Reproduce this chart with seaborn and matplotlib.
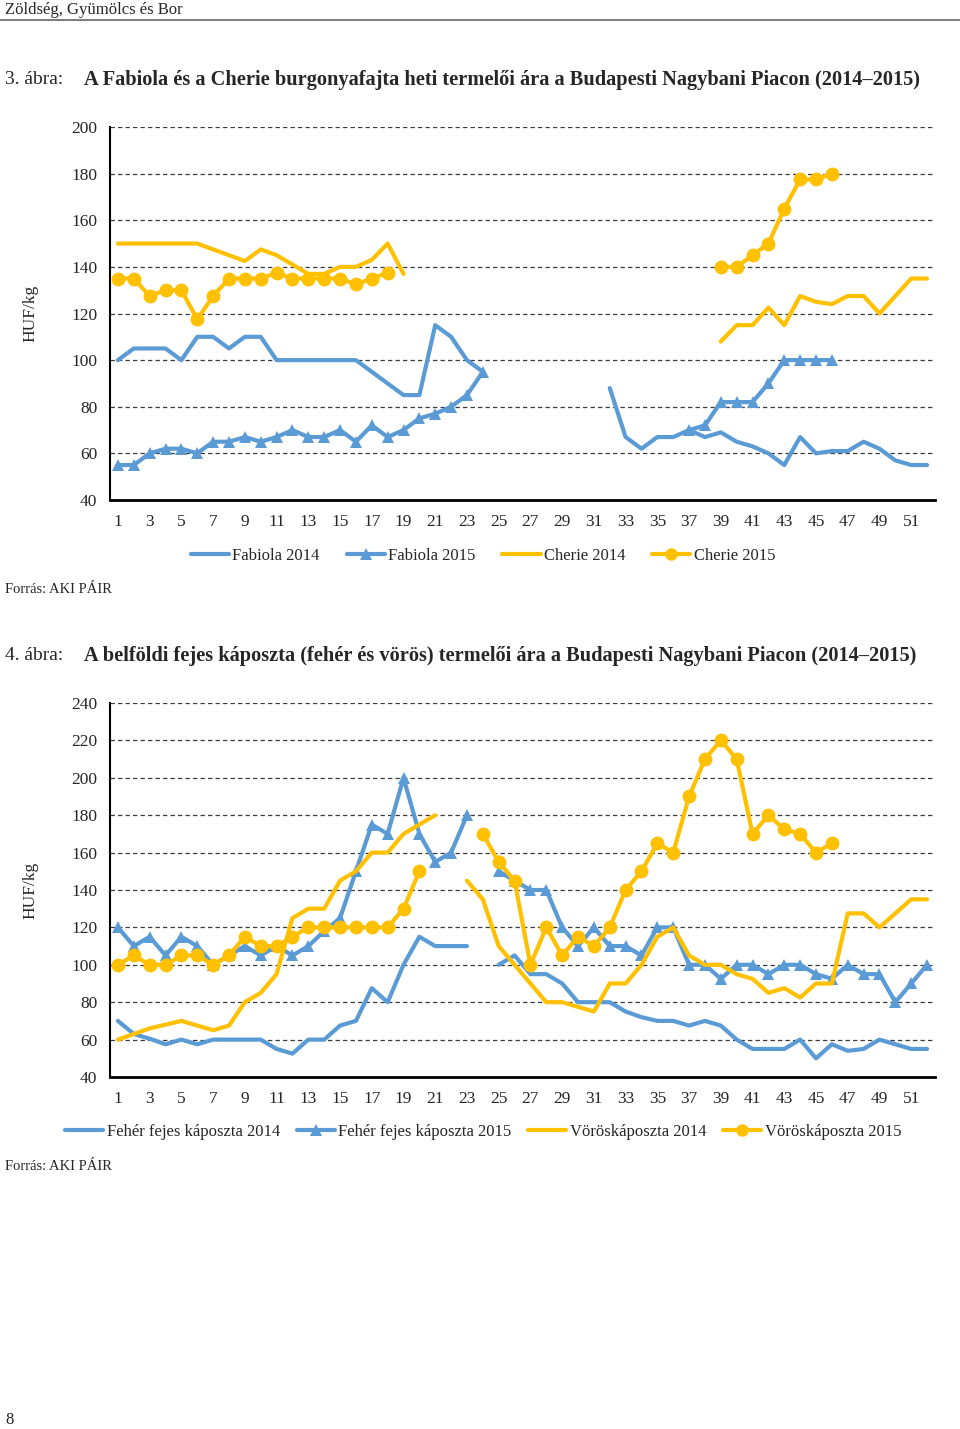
import numpy as np
import pandas as pd
import seaborn as sns
import matplotlib.pyplot as plt
from matplotlib.lines import Line2D

nan = np.nan
weeks = list(range(1, 53))

# 3. ábra - burgonya (HUF/kg)
fabiola_2014 = ([100, 105, 105, 105, 100, 110, 110, 105, 110, 110, 100, 100, 100, 100, 100, 100,
                 95, 90, 85, 85, 115, 110, 100, 95] + [nan] * 7 +
                [88, 67, 62, 67, 67, 70, 67, 69, 65, 63, 60, 55, 67, 60, 61, 61, 65, 62, 57, 55, 55])
fabiola_2015 = ([55, 55, 60, 62, 62, 60, 65, 65, 67, 65, 67, 70, 67, 67, 70, 65, 72, 67, 70, 75,
                 77, 80, 85, 95] + [nan] * 12 +
                [70, 72, 82, 82, 82, 90, 100, 100, 100, 100] + [nan] * 6)
cherie_2014 = ([150, 150, 150, 150, 150, 150, 147.5, 145, 142.5, 147.5, 145, 141, 137, 137, 140,
                140, 143, 150, 137] + [nan] * 19 +
               [108, 115, 115, 122.5, 115, 127.5, 125, 124, 127.5, 127.5, 120, 127.5, 135, 135])
cherie_2015 = ([135, 135, 127.5, 130, 130, 117.5, 127.5, 135, 135, 135, 137.5, 135, 135, 135, 135,
                132.5, 135, 137.5] + [nan] * 20 +
               [140, 140, 145, 150, 165, 177.5, 177.5, 180] + [nan] * 6)

# 4. ábra - fejes káposzta (HUF/kg)
feher_2014 = ([70, 63, 60.5, 57.5, 60, 57.5, 60, 60, 60, 60, 55, 52.5, 60, 60, 67.5, 70, 87.5, 80,
               100, 115, 110, 110, 110] + [nan] +
              [100, 105, 95, 95, 90, 80, 80, 80, 75, 72, 70, 70, 67.5, 70, 67.5, 60, 55, 55, 55, 60,
               50, 57.5, 54, 55, 60, 57.5, 55, 55])
feher_2015 = ([120, 110, 115, 105, 115, 110, 100, 105, 110, 105, 110, 105, 110, 118, 125, 150, 175,
               170, 200, 170, 155, 160, 180] + [nan] +
              [150, 145, 140, 140, 120, 110, 120, 110, 110, 105, 120, 120, 100, 100, 92.5, 100, 100,
               95, 100, 100, 95, 92.5, 100, 95, 95, 80, 90, 100])
voros_2014 = ([60, 63, 66, 68, 70, 67.5, 65, 67.5, 80, 85, 95, 125, 130, 130, 145, 150, 160, 160,
               170, 175, 180] + [nan] +
              [145, 135, 110, 100, 90, 80, 80, 77.5, 75, 90, 90, 100, 115, 120, 105, 100, 100, 95,
               92.5, 85, 87.5, 82.5, 90, 90, 127.5, 127.5, 120, 127.5, 135, 135])
voros_2015 = ([100, 105, 100, 100, 105, 105, 100, 105, 115, 110, 110, 115, 120, 120, 120, 120, 120,
               120, 130, 150] + [nan] * 3 +
              [170, 155, 145, 100, 120, 105, 115, 110, 120, 140, 150, 165, 160, 190, 210, 220, 210,
               170, 180, 172.5, 170, 160, 165] + [nan] * 6)

BLUE = "#5B9BD5"
GOLD = "#FFC000"
W, H = 960, 1429

sns.set_theme(style="white")
plt.rcParams["font.family"] = ["Liberation Serif", "DejaVu Serif"]

fig = plt.figure(figsize=(W / 100, H / 100), dpi=100)


def fx(px):
    return px / W


def fy(py):
    return 1 - py / H


def draw_series(ax, values, color, marker, ms):
    # split at the missing weeks so the gaps stay open
    df = pd.DataFrame({"week": weeks, "value": values})
    df["seg"] = df["value"].isna().cumsum()
    df = df.dropna()
    for _, part in df.groupby("seg"):
        sns.lineplot(data=part, x="week", y="value", ax=ax, color=color, lw=3,
                     marker=marker, markersize=ms, markeredgewidth=0, legend=False)


def style_axes(ax, ymin, ymax):
    ax.set_xlim(0.5, 52.5)
    ax.set_ylim(ymin, ymax)
    ax.set_yticks(range(ymin, ymax + 1, 20))
    ax.set_xticks(range(1, 52, 2))
    ax.set_xticks(np.arange(0.5, 53, 1), minor=True)
    ax.tick_params(axis="x", which="major", length=0, pad=10, labelsize=12.5)
    ax.tick_params(axis="x", which="minor", length=5, width=1.3, direction="out", color="black")
    ax.tick_params(axis="y", length=5, width=1.3, direction="out", color="black", pad=4,
                   labelsize=12.5)
    ax.yaxis.grid(True, linestyle=(0, (3.5, 2.5)), color="#3a3a3a", linewidth=0.9)
    ax.xaxis.grid(False)
    for s in ["top", "right"]:
        ax.spines[s].set_visible(False)
    ax.spines["left"].set_color("black")
    ax.spines["left"].set_linewidth(1.5)
    ax.spines["bottom"].set_color("black")
    ax.spines["bottom"].set_linewidth(2)
    ax.set_xlabel("")
    ax.set_ylabel("HUF/kg", fontsize=12.5, labelpad=24)
    ax.set_facecolor("white")


def handles(labels):
    return [
        Line2D([], [], color=BLUE, lw=3, label=labels[0]),
        Line2D([], [], color=BLUE, lw=3, marker="^", ms=8, mew=0, label=labels[1]),
        Line2D([], [], color=GOLD, lw=3, label=labels[2]),
        Line2D([], [], color=GOLD, lw=3, marker="o", ms=9, mew=0, label=labels[3]),
    ]


# header
fig.text(fx(5), fy(10), "Zöldség, Gyümölcs és Bor", fontsize=12, va="center", ha="left")
fig.add_artist(Line2D([0, 1], [fy(20), fy(20)], color="#7f7f7f", lw=1.5))

# ---- chart 1 ----
fig.text(fx(5), fy(80), "3. ábra:", fontsize=14, va="center")
fig.text(fx(84), fy(80), "A Fabiola és a Cherie burgonyafajta heti termelői ára a Budapesti "
         "Nagybani Piacon (2014–2015)", fontsize=14.7, fontweight="bold", va="center")

ax1 = fig.add_axes([fx(110), fy(500), fx(935) - fx(110), fy(127) - fy(500)])
draw_series(ax1, fabiola_2014, BLUE, None, 0)
draw_series(ax1, fabiola_2015, BLUE, "^", 9)
draw_series(ax1, cherie_2014, GOLD, None, 0)
draw_series(ax1, cherie_2015, GOLD, "o", 10)
style_axes(ax1, 40, 200)

fig.legend(handles=handles(["Fabiola 2014", "Fabiola 2015", "Cherie 2014", "Cherie 2015"]),
           loc="center", bbox_to_anchor=(fx(483), fy(556)), ncol=4, frameon=False,
           fontsize=12, handlelength=2.3, handletextpad=0.2, columnspacing=1.6)
fig.text(fx(5), fy(590), "Forrás: AKI PÁIR", fontsize=10.5, va="center")

# ---- chart 2 ----
fig.text(fx(5), fy(656), "4. ábra:", fontsize=14, va="center")
fig.text(fx(84), fy(656), "A belföldi fejes káposzta (fehér és vörös) termelői ára a Budapesti "
         "Nagybani Piacon (2014–2015)", fontsize=14.7, fontweight="bold", va="center")

ax2 = fig.add_axes([fx(110), fy(1077), fx(935) - fx(110), fy(703) - fy(1077)])
draw_series(ax2, feher_2014, BLUE, None, 0)
draw_series(ax2, feher_2015, BLUE, "^", 9)
draw_series(ax2, voros_2014, GOLD, None, 0)
draw_series(ax2, voros_2015, GOLD, "o", 10)
style_axes(ax2, 40, 240)

fig.legend(handles=handles(["Fehér fejes káposzta 2014", "Fehér fejes káposzta 2015",
                            "Vöröskáposzta 2014", "Vöröskáposzta 2015"]),
           loc="center", bbox_to_anchor=(fx(483), fy(1132)), ncol=4, frameon=False,
           fontsize=12, handlelength=2.3, handletextpad=0.2, columnspacing=1.0)
fig.text(fx(5), fy(1166), "Forrás: AKI PÁIR", fontsize=10.5, va="center")

fig.text(fx(5), fy(1420), "8", fontsize=12, va="center")

fig.savefig("out.png", dpi=100, facecolor="white")
